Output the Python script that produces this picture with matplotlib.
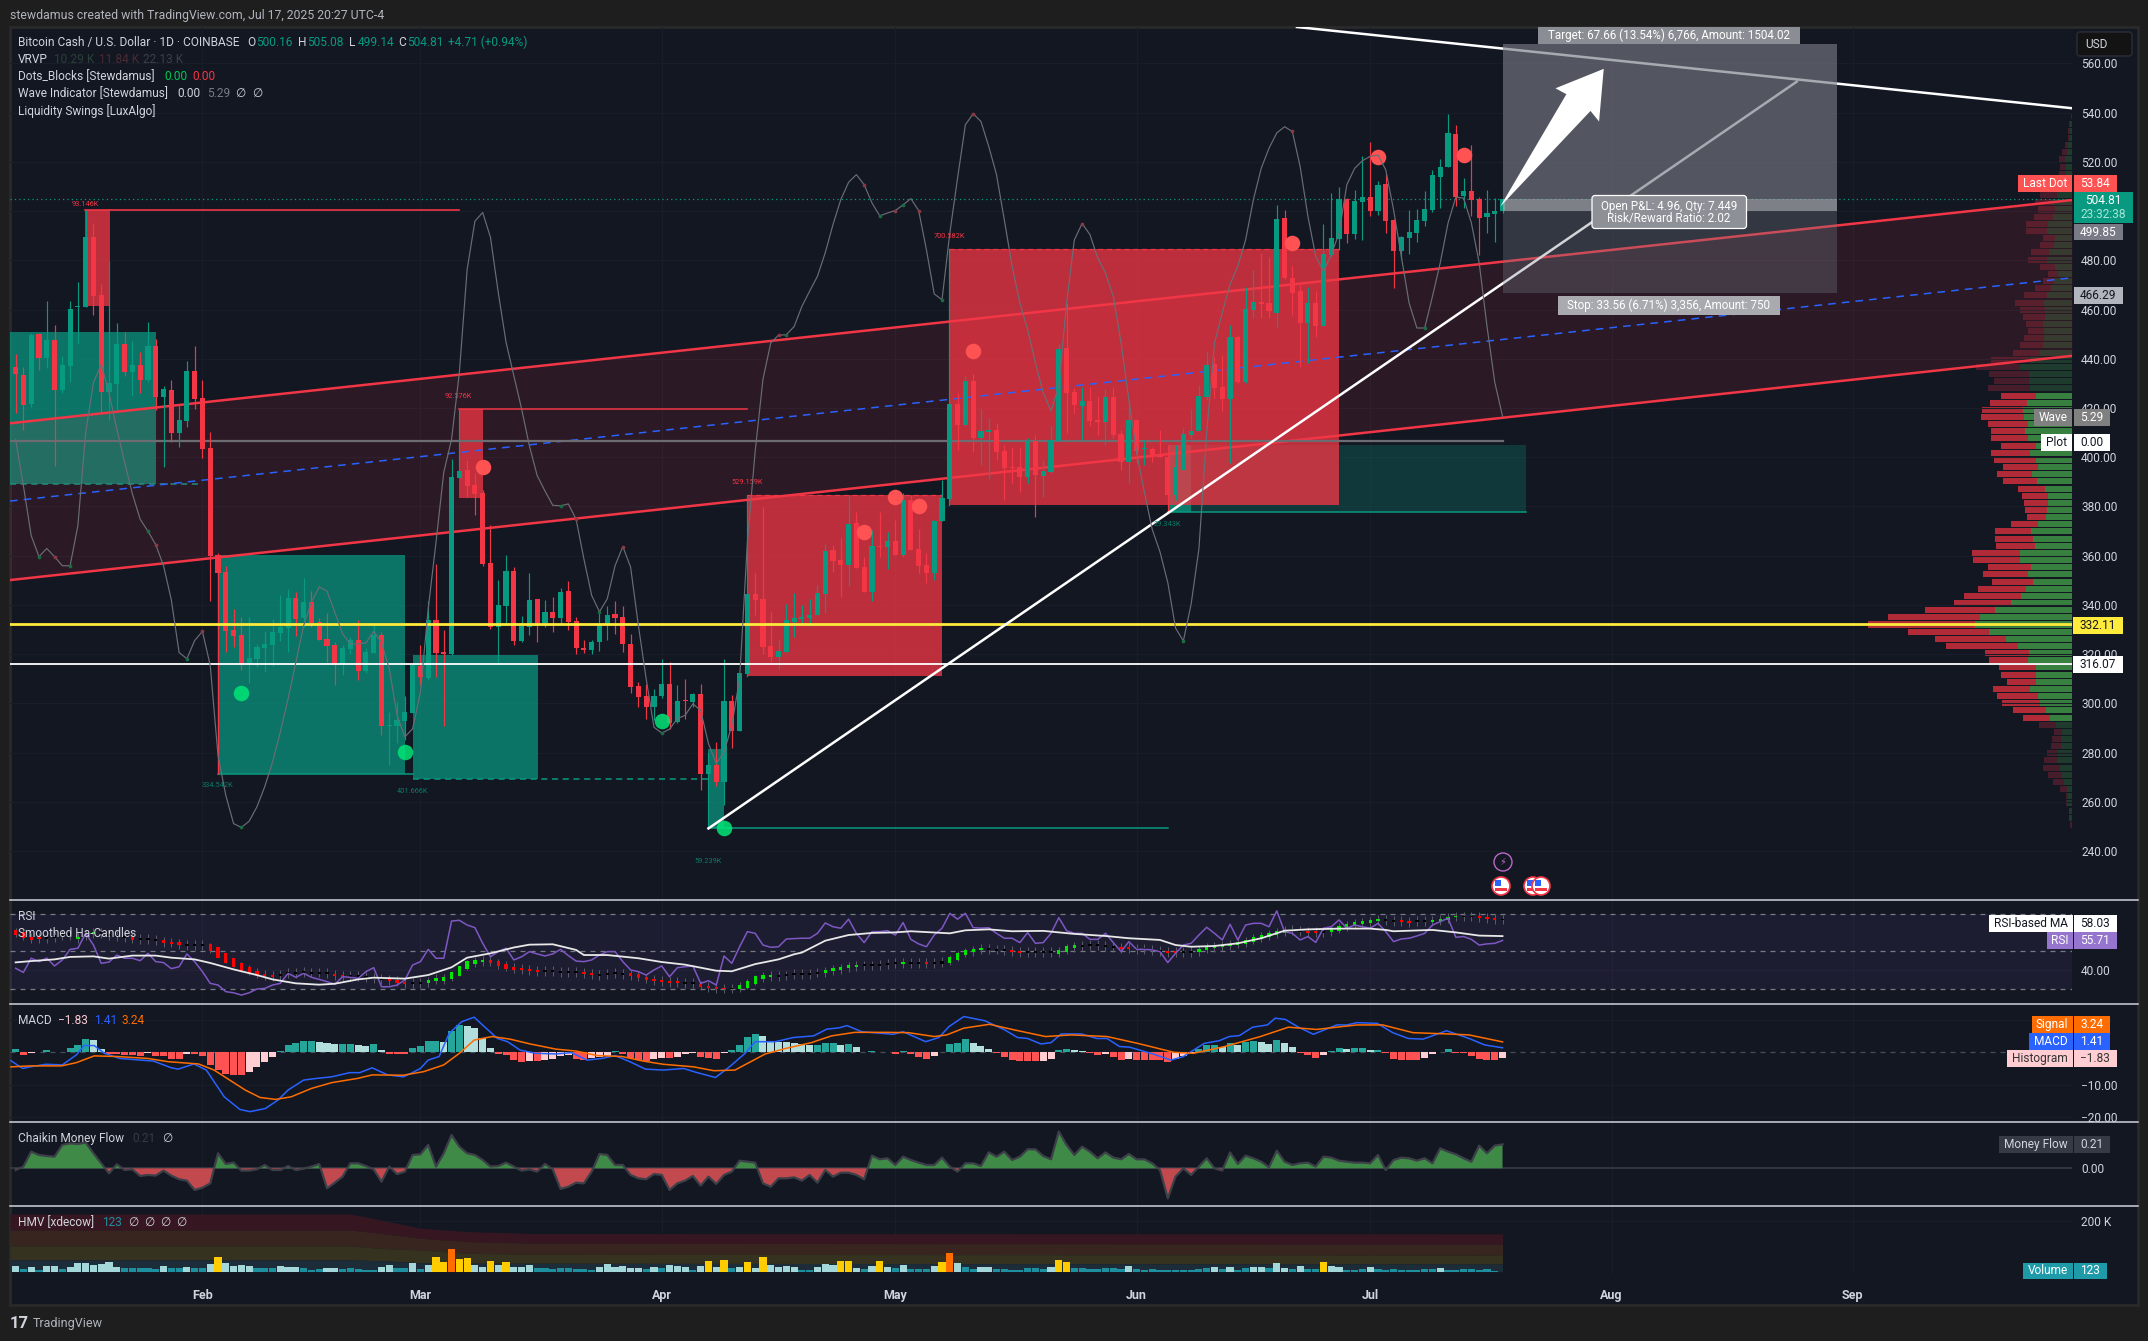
import numpy as np
import matplotlib
matplotlib.use('Agg')
from matplotlib import pyplot as plt
from matplotlib.patches import Rectangle, Polygon, Circle, FancyBboxPatch

plt.rcParams['font.family'] = ['Roboto', 'DejaVu Sans']

# price candles, one per day
body_top = [436.5,433.3,449.7,450.1,447.6,447.6,437.5,460.2,461.3,489.6,
489.6,465.9,430.2,446,446,437.5,437.5,445.2,445.2,427.7,
427.3,415.1,435.1,435.1,424.1,403.8,360.3,353.4,329.8,327.8,
318.4,322.9,324.1,329,331,342.8,342.8,341.2,341.2,333,
326.2,323.7,322.5,325.8,325.8,320.9,327.8,327.8,291.2,293.3,
296.5,315.6,315.2,333.9,333.9,320.9,392,394.4,394.8,388.7,
385.5,357,340,353.8,353.8,331.4,342,342.4,337.1,337.1,
345.3,345.7,333.5,322.5,324.9,332.3,335.9,336.3,335.1,324.1,
307,303,303,307.9,307.9,301,301.4,303.8,303.8,275,
275,301,301,312.2,344.4,344.4,342.4,323.3,321.3,333.9,
334.7,335.1,335.9,344.9,361.9,362.3,358.3,372.9,373.3,355.4,
364,364,366,366,382.6,382.6,362.7,356.2,374.1,383.5,
421.7,421.7,431,431,410.7,411.1,411.1,402.6,396.1,396.1,
406.6,406.6,394.4,407,444,444.4,426.5,422.9,422.9,415.2,
424.5,424.5,409.3,415.2,415.2,403.8,403.4,400.9,400.1,396.1,
409.3,410.7,424.9,437.4,437.9,428.6,448.9,448.9,460.3,463.1,
463.1,462.7,496.8,497.3,472.9,467.6,462.7,462.7,482.6,489.1,
505,505,504.2,505.8,505.8,510.7,511.1,496.4,489.5,491.6,
496.4,500.9,514.7,518,531.8,531.4,508.2,508.2,505,499.3,
500.1,504.81]
body_bot = [433.8,421.2,421.6,440.5,440.5,427.3,427.3,437.1,461,461,
465.5,426.5,426.5,429.8,434.6,434.6,431.4,431.4,424.5,424.5,
409.9,409.9,414.7,423.7,403.4,359.9,353,329.4,327.4,316,
316,318,322.5,323.7,328.6,330.6,334.3,334.7,332.7,325.8,
323.3,316,316,322.1,313.2,313.2,320.5,290.8,290.8,290.8,
292.8,296.1,310.7,310.3,320.5,320.1,320.1,391.6,388.3,385.1,
356.6,331,331,339.6,325.4,325.4,331,332.3,332.7,334.7,
334.7,333,322.5,321.7,321.7,324.9,331.9,334.7,324.1,306.6,
302.6,298.5,298.5,303,292,292.4,301,300.6,271.3,271.3,
268.1,268.1,288.8,288.8,311.9,342,322.9,318.8,318.8,320.9,
333.1,334.3,334.7,335.9,344.4,357.9,356.2,356.2,355,345.3,
345.3,363.6,363.6,360.3,360.3,362.3,355.8,353,353,374.1,
383.1,413.2,413.2,407.9,407.9,410.4,402.2,395.7,395.7,392,
392,392.8,392.4,394,406.6,426.1,421.3,420.9,414.8,414.4,
414.4,409.1,398.1,398.1,402.6,403.4,400.5,400.3,384.7,384.7,
394.9,409.1,410.7,424.5,428.2,423.7,423.7,430.6,430.6,459.9,
462.3,459.5,458.7,472.9,466.8,454.6,454.6,453.4,453.4,482.2,
488.7,490.7,490.7,503.8,500.1,500.1,496,483.8,483.8,489.1,
491.2,496,500.5,513.9,518,505.8,506.2,504.6,497.3,497.7,
498.9,500.16]
highs = [442.0,436.5,450.4,450.4,463.5,453.7,441.1,463.5,471.2,500.5,
495.3,470.4,479.9,454.6,450.9,447.2,442.8,455,448,429,
431.4,421.2,439.1,445.2,431.4,410.3,361,355.8,338.4,335.1,
335.1,324.1,329.4,334.3,344,346.5,345.3,350.9,345.7,334.7,
336.7,324.9,323.7,327,333.9,322.5,332.3,329,296.5,300.6,
303,315.6,323.7,341.6,356.6,329.8,399.3,419.6,398.9,393.5,
386.7,372.5,350.1,360.3,355.4,335.5,353,342.4,342,343.2,
346.9,349.7,335.1,325.8,325.8,337.1,339.6,341.6,339.6,328.2,
308.7,307.9,305.8,318,316.8,307.5,309.9,304.2,307.9,279.7,
284.3,318,303.4,312.2,344.4,353.1,379.9,337.1,325.8,340.4,
344.9,340,342.4,348.1,364.8,364.4,367.2,384.7,377.6,359.6,
370.5,377.8,369.6,374.5,385.4,384.7,370.9,361.1,374.5,390.8,
421.7,426,433,433.9,419.6,416,413.8,405,404.3,404.3,
407.9,409.1,398.9,412.5,446,462.6,428,428.7,428.7,424.7,
427.6,428,411.1,423.3,415.4,407,404.3,411.1,405,405,
411.8,419.6,429.4,443,440.9,441.6,453.8,449.7,469.3,476.1,
482.9,481.5,502.5,500.5,477.7,470,469.3,467.6,494.8,507.3,
509.7,505.4,508.6,522.4,528.1,512.3,515.1,496.6,489.9,500.5,
500.9,508.2,516.8,521.2,539.5,535,513.5,526.9,505.6,508.6,
505.4,505.08]
lows = [418.1,411.1,420.6,435.4,436.4,396.4,426,430.6,446,460.9,
457.8,418.1,415.1,419.2,433,424.9,426,430.6,419.2,396.2,
406.2,404.2,412.3,419.6,399.7,341.6,271.2,320.9,322.9,313.6,
308.3,314.8,312.8,315.2,325.4,320.9,327.4,331,331,325.8,
316.8,307.5,311.5,320.1,309.5,312.4,320.3,287.1,275,283.9,
285.1,296,307.5,309.5,310.7,290.8,319.7,391.6,383.9,376.6,
355.8,330.2,316,331.9,323.7,324.9,327.8,324.9,331,329,
332.3,329.8,320.1,320.5,320.1,321.3,325.8,328.2,320.9,304.2,
298.5,293.7,293.2,302.2,289.6,291.9,293.7,298.5,264.8,249.2,
266.4,258.7,281.9,288.8,311.9,335.9,320.1,316.8,314,320.9,
327.1,332.3,331.4,335.9,336.6,353.5,343.2,347.7,355,345.3,
341.6,359.6,354.6,360.3,359.3,362.3,352.8,348.8,350.1,374.1,
383.1,403,412.5,402.3,396.9,391.2,398.9,382.7,389.4,386,
389.4,375.9,384,393.5,406.6,409.7,417.9,407,412.5,409.1,
405,407.7,394.9,389.4,397.6,396.9,398.2,400.3,377.2,382.7,
394.9,407.7,410.7,423.3,424,418.6,397.6,430.1,430.1,456.5,
456.5,456.5,452.8,472.5,457.8,436.8,438.2,449,453.4,481.5,
484.2,487,488.7,488.3,498,498.5,491.2,468.8,480.6,482.6,
487.5,494,499.7,501.3,518,502.1,501.3,498,482.2,491.2,
487.5,499.14]
candle_dir = ("RRGRGRGGGG" "RRGGRGRGRG" "RGGRRRRRRR" "GGGGGGRGRR" "RRGGRGGRGG"
              "GGRGRRGGRR" "RRGGRGGRGR" "GRRRGGGRRR" "RRGGRGRGRG" "RGRGGRRRGG"
              "GGGGGRRGRR" "GRGRGRRRGG" "GRGRGGRRRR" "GRGGGRRGRR" "GRRGRGRRRG"
              "GGGGRRGRGG" "RRGRRRGRGG" "GRGGRGRRGG" "GGGGGRGRRGGG")

# wave indicator oscillator, on its own scale
wave = [0.5,-9.2,-19.6,-24,-22.3,-24,-25.9,-25.9,-17.5,1.9,
12.3,16.1,10.2,2.6,-4.3,-10.9,-16.2,-18.7,-21.5,-25.9,
-33,-44,-45.3,-41.5,-39.6,-46.7,-65.5,-73.8,-79.7,-80.5,
-79.2,-76.2,-72,-66.9,-60.6,-53.7,-46,-38.4,-33.5,-30.3,
-31.2,-35.6,-40.1,-42.2,-42.2,-42,-39.6,-41.9,-47.4,-57.1,
-61.6,-59.9,-52.3,-34.9,-21,-6.4,0.5,14.4,35.9,46,
47.8,42.6,31.1,20.7,13.7,6.8,-0.9,-7.1,-10.3,-13.3,
-13.4,-13,-16.2,-24.5,-32.1,-35.5,-32.8,-25.9,-21.9,-26.2,
-38.4,-49.5,-59.6,-60.8,-60,-57.8,-57.1,-54.7,-56.1,-63,
-67.2,-64.8,-59.2,-49.5,-21,-2,13,20.6,22.2,22.3,
24,28.2,31.4,34.5,39.4,45.3,50.5,54.1,55.7,53.6,
49.8,47.1,47.7,48.2,49.4,50.7,48.2,40,30.8,29.6,
43.5,55,66.1,68.4,66.8,61.6,55.7,46.3,36.6,28.9,
23.4,16.4,10.2,6.4,11.6,28.9,42.1,45.5,43.2,38.3,
35.2,30.3,20.6,8.8,-2.3,-10.6,-18.3,-23,-29.4,-38.9,
-41.6,-33.9,-22.4,1.9,20.6,26.9,32.8,36.6,42.1,50.5,
57,61.2,64.4,65.7,64.7,57.4,47,38.7,35.5,39,
43.5,53.6,57,58.6,59.5,59.8,56.7,48.4,38.7,28.9,
23.7,23.7,30.3,37.3,45.6,51,50.8,45.6,37.3,24.1,
12.4,5.29]
wave_up_marks = [3,7,17,22,29,70,75,83,99,111,114,119,150,181]
wave_dn_marks = [5,18,24,72,78,98,109,113,116,123,137,164]

# dots from Dots_Blocks
green_dot_x = [29,50,83,91]
green_dot_y = [304.2,280.1,292.8,249.4]
red_dot_x = [60,109,113,116,123,164,175,186]
red_dot_y = [396.1,369.5,384,380.3,443.3,487.2,521.8,522.8]

# liquidity boxes: left, right, top, bottom
green_boxes = [(-0.72,18,450.9,389),(26,50,360.3,271.2),(51,67.1,319.7,269.1),(89,91,281.5,249.2),(148,151,405,377.6)]
red_boxes = [(8.95,12.1,500.5,461.5),(57,60.05,419.6,383.5),(94,119,384.7,311.1),(119.9,170,484.7,380.6)]
dim_box = (148,194,405,377.6)
swing_labels = [("93.146K",8.9,502.5,'r'),("92.576K",56.9,424.6,'r'),("529.159K",94,389.7,'r'),("700.582K",119.9,489.6,'r'),
                ("334.542K",26,266.6,'g'),("401.666K",51,264,'g'),("59.239K",89,235.7,'g'),("29.343K",148,372.6,'g')]

# channel and levels
chan_x = [-0.72,264.15]
chan_up = [413.8,504.5]
chan_mid = [382.2,472.9]
chan_lo = [350.1,441.2]
last_close = 504.81
poc_level = 332.11
low_level = 316.07
plot_level = 406.7
entry_price = 500.16
target_size = 67.66
stop_size = 33.56

# visible range volume rows, bottom to top
vp_bottom = 249.2
vp_step = 2.907
vp_down = [2,0,0,1,2,7,11,14,17,13,11,10,9,8,17,27,33,38,41,37,29,35,37,39,44,72,71,81,107,92,70,57,57,48,41,45,43,47,48,39,38,36,27,19,22,24,26,27,34,35,35,42,39,35,37,34,40,43,41,37,35,42,
           35,40,44,39,27,23,20,16,17,22,25,29,23,16,11,10,15,19,18,14,12,21,22,19,17,16,17,12,4,7,6,6,5,3,2,2,1,1]
vp_up = [0,3,3,5,4,5,8,10,12,15,14,11,11,10,16,22,26,32,34,42,36,36,36,44,43,54,66,83,97,92,77,61,51,46,39,44,41,52,52,37,39,41,34,26,25,24,24,27,35,40,34,36,42,36,44,47,44,48,49,45,36,42,
         43,43,52,42,32,29,28,28,29,27,27,28,25,21,18,14,17,25,23,18,17,25,24,19,17,21,15,10,8,6,6,7,5,4,2,2,2,0.5]

# RSI pane
rsi = [41,38.8,46.3,44.5,46.4,42.2,45.4,51,51.6,59.5,53.3,43.6,44.3,48,46.3,46.3,45,48.9,44.5,44,
40.8,41.8,48.6,44.5,39.2,33,32.1,28.6,28,26.8,28,30,30.3,32.1,33,38.3,36.2,38.3,36.2,35.1,
33.9,32.5,36.5,36.2,35.6,39.2,41.3,31.2,31.2,32.1,34.8,42.7,44.5,51,46.3,46.3,66,66.4,63.9,62.5,
54.2,47.1,49.8,51.6,45.4,47.1,49.8,48.6,47.5,48.6,51,47.7,44.8,44.5,45.4,48,49.8,49.8,44.5,40.1,
39.2,37.4,40.1,42.2,36.5,41.3,41.8,42.2,33,34.4,32.1,47.5,43.6,52.4,60.4,59.5,53.3,52.1,52.4,56.5,
56.7,56.9,56.9,59.5,65,63,62.2,67,59.5,54.6,60.4,60.4,60.9,58.6,65.2,56.3,53.9,52.4,58.6,62.2,
70.1,67,70.1,62.5,62.3,62.5,59.5,56.9,56.9,54.6,59.9,54.2,54.6,59.5,67.8,60.9,59.5,59.5,56.3,56.3,
59.5,54.6,49.8,55.1,51,51,50.7,49.8,44,48.9,53.3,54.2,58.6,62.7,59.5,56,64.3,56,63.9,64.8,
64.8,63,71.4,60.4,59.5,56,57.8,54.7,62.2,63,66.6,62.2,63.9,63,62.2,64.8,60.4,55.1,56.5,56.9,
58.1,59.5,63.9,65.7,67.5,57.4,57.8,56.3,53.3,53.9,54.2,55.71]
rsi_ma_x = [0,2,5,7,10,12,15,18,20,23,25,28,31,33,36,39,41,44,46,50,53,56,58,61,64,66,69,72,73,76,80,83,86,90,92,95,98,
            100,101,104,107,110,113,115,120,122,125,128,132,136,140,143,147,149,151,154,157,160,163,166,170,174,176,177,182,185,188,191]
rsi_ma_y = [44.1,44.8,45.7,47,47.3,46.1,47.7,47.7,46.6,45.7,43.8,40.4,37.4,35.1,33,32.3,32.8,35.1,36,35.5,37.4,41.5,46.6,48.9,52,53.5,53.7,50.7,48,48,46.3,44.3,42.9,39.7,39.4,43.2,45.7,
            48.4,49.3,55.6,58.6,59.7,60,60.6,59.5,61.1,61.6,60.6,60.8,59.2,58.1,56.9,56,53.3,52.4,52.8,54.2,56.9,60.9,61.6,62,62,61.3,60.6,61.3,60,58.3,58.03]
ha_mid = [59.9,58.6,56.9,56.9,57.2,57.7,58.6,58.6,56.9,58.6,
59.5,59.5,58.6,58.1,57.7,56.9,56.3,56.3,56,55.1,
54.6,54,53.3,53.3,53.3,51.9,49.3,46.4,44,41.5,
39.9,38.3,37.4,37.1,37.4,38.3,38.3,38.8,38.7,38.7,
38.3,37.6,37.1,36.9,36.9,36.2,36,35.3,34.8,34.1,
33.2,33,33.2,33.9,35.1,35.5,37.1,39.5,42.7,44.1,
44.8,44.7,43.4,42,41,40.4,39.9,39.5,39.4,39.4,
39.2,39.2,38.8,38.3,37.8,37.6,38,38.3,38,37.6,
36.7,35.6,34.8,34.2,33.7,33.5,33.3,33.2,31.9,31.2,
30.7,30.3,30.3,31.2,32.5,34.8,36.5,36.9,36.9,37.2,
38,38.1,38.1,38.7,39.2,40.1,40.8,41.7,42.4,42.5,
42.5,42.7,43.2,43.6,43.6,43.6,43.6,43.6,43.6,44.1,
45.4,47.3,49.3,50.3,51,51,50.9,50.7,50.1,49.8,
49.8,49.8,49.6,49.4,49.6,51.2,52.4,53,53.3,53.3,
52.8,52.4,51.9,51.6,51.2,51,50.7,50.1,49.8,49.4,
49.4,49.8,50.3,51.6,52.1,52.8,53.3,54.2,54.9,56.3,
57.7,58.6,59.5,60.6,61.3,60.9,60.4,60,60.4,60.9,
62.2,63.4,64.5,65.2,65.7,66.4,66.6,66.2,65.9,65.5,
65.9,66.2,66.2,66.6,67.5,68.4,68.4,68.4,68,67.5,
67.1,66.8]
ha_col = ("rrrrkkkkgk" "gkkkkrkkkr" "rrkkkrrrrr" "rrrrkkkkkk" "krrkkkkkrr"
          "rkkggggggg" "grrrrrrrkk" "kkkrrkkkkr" "rrrrrrkkrr" "rrkgggggkk"
          "kkkkgggggk" "kkkkgkkrkk" "gggggkkkrr" "kkkkgggkkk" "kkrrkkkkrr"
          "kkgggggggg" "ggggkkrrkg" "ggggggkkrr" "kkggggkkrr" "rk")

# MACD pane
macd_hist = [1,-.8,-.2,.1,.7,.1,.1,1.4,2.3,4.1,3.8,1,-.4,-.6,-.8,-.8,-1,-.2,-1,-1,
-2,-2.1,-.4,-.4,-1,-3.9,-5.5,-6.7,-7,-7,-6,-4.5,-2.9,-1.3,.4,2.3,2.8,3.5,3.5,3.2,
3,2.5,2.5,2.6,2.2,2,2.6,.7,-.5,-.5,-.5,1.2,2.1,3.5,3.5,3.2,6.6,8.5,8.2,7.6,
4.3,1.2,-.6,-.8,-2.5,-3,-2.6,-2.7,-2.4,-2.2,-1.1,-.8,-2,-2.3,-1.9,-1.3,-1,.3,-.5,-1.7,
-2.4,-2.7,-2,-1.9,-1.9,-1.3,-.6,-.3,-1.6,-1.7,-2.1,-.3,.7,2.3,4.8,5.7,5.2,3.5,3.3,3.2,
2.9,2.5,2.3,2.3,2.9,2.9,2.3,2.6,1.6,.1,.4,.1,0,-.4,.4,-.4,-1.4,-2,-1.1,.1,
2.6,3,4.1,2.9,2,1,-.1,-1.3,-2.4,-2.7,-2.8,-2.8,-2.7,-2,.7,1,.7,.4,-.2,-.8,
-.4,-1.3,-2.4,-2,-2.4,-2.4,-2.4,-2.4,-3,-2.2,-1.1,-.2,.9,2.3,2.3,1.6,2.9,2.3,3.3,3.5,
3.2,2.6,3.8,2.9,1.7,-.1,-.8,-1.8,-.8,.4,1.2,.9,1.3,1.3,.7,.7,-.3,-2,-2.4,-2.4,
-2.4,-1.8,-.5,.1,1,-.1,-.3,-1,-2,-2.4,-2.4,-1.83]
macd_x = [-.6,.9,1.9,3.9,6,7.8,8.8,10.1,11.4,13.4,16,17.7,20,20.9,22.9,24.5,25.5,26.8,28.8,30.1,32.1,33.7,35,37,38.6,40.6,42.9,44.2,45.8,47.8,49.8,50.8,52,53,54.4,55.7,57.3,58.9,60.2,61.9,63.2,64.8,66.8,69.4,71.4,73.4,75.3,77,78.9,80.9,83.2,85.8,87.4,89.9,91.7,93.7,
          95,97.6,99.9,102.5,104.2,105.8,106.8,108.7,112.7,114,116.9,118.6,119.9,121.8,124.5,127.1,128.7,130,131.7,133,134.3,136.9,138.9,140.2,141.8,143.1,146.1,148.4,150,152.7,154.6,155.9,157.2,158.9,160.8,161.8,163.1,164.8,166.7,169.7,171,172.3,174.9,176.9,178.9,180.8,183.8,186.7,188.7,191]
macd_y = [-2.6,-5,-4.5,-3.7,-3.9,-.8,2.1,2.1,-.3,-1.9,-2.4,-2.7,-4.8,-5.2,-3.6,-5.5,-9.1,-13.8,-17.7,-18.4,-17.4,-14.8,-11.7,-8.6,-8.1,-7.6,-6.3,-6.3,-4.8,-7,-7.6,-6.5,-5,-2.4,-1.3,5.9,9.5,10.9,8,4.3,3.3,.7,-.3,-.5,-.1,-2.4,-1.9,-1,-2.9,-5.2,-5.5,-5,-6.2,-7.8,-4.5,-.3,
          3.3,3.3,4.6,5.1,7.2,7.6,8.3,6.4,5.6,6.4,3.3,4.6,8,11.1,9.8,6.9,4.6,4.3,2.6,3,5.7,5.7,4.3,4.3,1.8,1.6,-.5,-2.4,-1.3,2.8,3.6,4.9,5.2,7.8,8.5,10.6,10.2,7.8,5.6,8.5,8.5,9.2,9,6.1,4.3,4.1,6.7,4.3,2.3,1.41]
signal_x = [-.6,1.9,5.9,7.8,10.1,13.1,17,19.6,23.5,25.5,27.5,29.5,31.4,33.4,35.4,38,40.6,43.9,45.8,49.8,52.4,55,57,58.9,61.2,63.5,66.1,69.4,72,74.7,77.9,80.6,83.2,87.1,89.7,92.4,
            96.3,98.9,102.2,104.8,107.8,112,114.7,118,119.6,121.8,125.1,128.4,132.3,135.6,140.2,144.1,148.8,151.3,155.3,159.9,163.5,167.1,172.3,175.6,179.5,184,186.7,191]
signal_y = [-4.5,-4.2,-4.2,-3.2,-1.1,-1.3,-1.9,-2.9,-3.6,-5.5,-8.6,-11.7,-14,-14.6,-13.8,-11.2,-9.4,-8.1,-7,-7.1,-6,-3.9,-.3,3.8,4.9,4.1,2.6,1,.4,-1,-1.3,-2.7,-3.7,-4.5,-5.7,-5.5,
            -.5,1.2,3,5.1,6.2,6.2,6.1,4.9,5.4,7.5,8.7,6.9,4.9,5.4,4.9,2.8,0,-.3,1.8,4.9,7.8,7.1,8.5,8.5,6.1,5.7,5.4,3.24]

# Chaikin money flow
cmf = [-.015,.015,.146,.117,.108,.102,.205,.219,.213,.225,.132,.044,-.044,.035,-.015,-.009,-.067,-.058,-.064,-.02,
-.064,-.096,-.108,-.19,-.17,-.132,.132,.038,.05,-.02,-.02,-.009,.029,-.015,-.015,.02,-.015,-.003,.015,.038,
-.175,-.126,-.073,.044,.044,.02,-.009,-.117,.015,-.05,-.029,.117,.123,.205,.015,.132,.292,.19,.132,.117,
.073,.015,.02,.05,.015,-.02,-.009,-.029,.038,-.009,-.181,-.161,-.126,-.132,-.029,.126,.117,.029,.029,-.058,
-.088,-.096,-.05,-.058,-.19,-.132,-.108,-.067,-.152,-.073,-.137,-.058,-.029,.067,.058,.05,-.132,-.161,-.088,-.088,
-.079,-.108,-.058,-.126,-.015,-.073,-.038,-.038,-.058,-.096,.111,.079,.088,.029,.102,.073,.05,.029,.029,.094,
.015,-.029,.044,.044,.02,.14,.102,.146,.073,.102,.167,.167,.108,.079,.322,.205,.117,.19,.146,.088,
.14,.094,.079,.126,.079,.079,.044,-.015,-.263,-.073,0,-.058,.015,.088,0,-.02,.14,.038,.111,.088,
.058,.009,.155,.058,.029,.044,.05,.015,.102,.094,.067,.058,.05,.05,.044,.117,-.015,.073,.094,.088,
.067,.088,.044,.175,.146,.123,.088,.058,.199,.132,.199,.21]

# volume in thousands with its colour class
volume = [22,12,18,8,21,24,12,20,33,35,27,31,39,18,14,14,14,14,10,24,
16,16,18,14,16,30,59,33,22,25,22,13,14,13,22,18,18,13,8,10,
14,16,9,13,9,8,7,18,26,13,16,33,10,27,59,38,89,51,55,26,
18,43,27,39,17,20,26,14,14,12,14,14,10,12,7,17,31,18,22,13,
13,12,17,13,26,24,18,8,24,42,20,46,16,17,38,16,59,27,18,22,
17,7,8,18,30,26,42,42,14,9,22,42,18,13,26,10,10,10,22,38,
72,33,18,12,18,18,12,12,7,7,14,14,10,18,46,38,14,14,10,12,
16,14,10,22,10,7,10,7,5,7,7,7,10,14,18,10,17,7,14,18,
18,14,33,14,10,21,10,10,38,22,18,7,7,10,18,10,7,10,7,7,
7,10,10,14,7,7,10,10,7,10,4,0.123]
volume_col = ("LTLTLLTLLL" "LLLLTTTTTL" "TTLTTLYLLL" "LTTTLLLTTT" "LLTTTTTLLT"
              "TLTLYYOYYL" "LYLYLLLTTT" "TTTTTLLLLL" "LTLTLLLTLY" "LYTLYLYLLL"
              "LTTLLLYYLT" "LYLTLTTTLY" "OLTTLLTTTT" "TTTLYYTTTT" "TTTLTTTTTT"
              "TTTTLTLTTL" "LTLLTLTTYL" "LTTTLTTTTT" "TTTLTTTTTT" "TT")
band_x = [-0.72,43,47,52,58,67,191]
band_maroon = [226,226,202,170,157,149,148]
band_brown = [163,163,150,131,118,111,108]
band_olive = [101,101,91,85,72,68,65]
band_blue = [46,46,43,35,33,33,30]

month_pos = [24,52,83,113,144,174,205,236]
month_names = ['Feb','Mar','Apr','May','Jun','Jul','Aug','Sep']
price_ticks = list(range(240,561,20))

for name, arr in [('body_top',body_top),('body_bot',body_bot),('highs',highs),('lows',lows),('dir',candle_dir),('wave',wave),
                  ('rsi',rsi),('ha',ha_mid),('hacol',ha_col),('hist',macd_hist),('cmf',cmf),('vol',volume),('volcol',volume_col)]:
    assert len(arr) == 192, (name, len(arr))
assert len(vp_down) == 100 and len(vp_up) == 100, (len(vp_down), len(vp_up))
assert len(macd_x) == len(macd_y) and len(signal_x) == len(signal_y) and len(rsi_ma_x) == len(rsi_ma_y)

W, H = 2148, 1341
BG = '#131722'
GREEN = '#089981'
RED = '#f23645'
TXT = '#d1d4dc'
idx = np.arange(192)
xlim = (-0.72, 264.15)

fig = plt.figure(figsize=(W/100, H/100), dpi=100, facecolor='#1e1e1e')

bg = fig.add_axes([0,0,1,1], zorder=0)
bg.set_xlim(0,W); bg.set_ylim(H,0); bg.axis('off')
bg.add_patch(Rectangle((10,27),2128,1278,facecolor=BG,edgecolor='#2a2a2a',lw=2))

def pane(y0, y1, ylim, z=2):
    a = fig.add_axes([10/W, 1-y1/H, 2062/W, (y1-y0)/H], zorder=z)
    a.set_xlim(xlim); a.set_ylim(ylim)
    a.patch.set_visible(False)
    for s in a.spines.values():
        s.set_visible(False)
    a.yaxis.tick_right()
    a.set_xticks(month_pos)
    a.tick_params(axis='both', length=0, colors=TXT, labelsize=8.6, pad=6.5)
    a.tick_params(axis='x', labelbottom=False)
    a.grid(True, color='#191d29', lw=0.8)
    a.set_axisbelow(True)
    return a

# ---- main price pane
ax = pane(27, 900.3, (220.0, 574.8), z=3)

ax_vp = ax.twiny()
ax_vp.set_zorder(2)
ax_vp.set_xlim(2062, 0)
ax_vp.axis('off')
vp_y = [vp_bottom + vp_step*(k+0.5) for k in range(100)]
for k in range(100):
    bright = 15 <= k <= 60
    ax_vp.barh(vp_y[k], vp_up[k], height=vp_step*0.84, color='#388040' if bright else '#1f3b2d', lw=0)
    ax_vp.barh(vp_y[k], vp_down[k], left=vp_up[k], height=vp_step*0.84, color='#b02a37' if bright else '#471d2b', lw=0)
ax.patch.set_visible(False)

for l, r, t_, b in green_boxes:
    ax.add_patch(Rectangle((l,b),r-l,t_-b,facecolor=GREEN,alpha=0.72,lw=0,zorder=2))
for l, r, t_, b in red_boxes:
    ax.add_patch(Rectangle((l,b),r-l,t_-b,facecolor=RED,alpha=0.77,lw=0,zorder=2))
ax.add_patch(Rectangle((dim_box[0],dim_box[3]),dim_box[1]-dim_box[0],dim_box[2]-dim_box[3],facecolor=GREEN,alpha=0.25,lw=0,zorder=1.9))

# swing level lines
ax.plot([8.95,57],[500.5,500.5],color=RED,lw=1.2,zorder=2.5)
ax.plot([57,94],[419.6,419.6],color=RED,lw=1.1,zorder=2.5)
ax.plot([94,119],[384.7,384.7],color=RED,lw=0.9,ls=(0,(4,3)),zorder=2.5)
ax.plot([119.9,170],[484.7,484.7],color=RED,lw=0.9,ls=(0,(4,3)),zorder=2.5)
ax.plot([-0.72,24],[389,389],color=GREEN,lw=1.1,ls=(0,(4,3)),zorder=2.5)
ax.plot([26,51],[271.2,271.2],color=GREEN,lw=1.1,zorder=2.5)
ax.plot([51,89],[269.1,269.1],color=GREEN,lw=1.1,ls=(0,(4,3)),zorder=2.5)
ax.plot([89,148],[249.2,249.2],color=GREEN,lw=1.1,zorder=2.5)
ax.plot([148,194],[377.6,377.6],color=GREEN,lw=1.1,zorder=2.5)
ax.plot([26,26],[271.2,360.3],color=GREEN,lw=0.9,zorder=2.5)
ax.plot([94,94],[311.1,384.7],color=GREEN,lw=0.9,zorder=2.5)
ax.plot([119.9,119.9],[380.6,484.7],color=GREEN,lw=0.9,zorder=2.5)
for txt, x, y, c in swing_labels:
    ax.text(x, y, txt, color=RED if c == 'r' else '#0b7a68', fontsize=5.3, ha='center', va='center', zorder=7)

# channel
ax.fill_between(chan_x, chan_lo, chan_up, color=RED, alpha=0.11, lw=0, zorder=3)
ax.plot(chan_x, chan_up, color=RED, lw=1.8, zorder=3.2)
ax.plot(chan_x, chan_lo, color=RED, lw=1.8, zorder=3.2)
ax.plot(chan_x, chan_mid, color='#2962ff', lw=1.1, ls=(0,(5,4)), zorder=3.2)

ax.plot([-0.72,191],[plot_level,plot_level],color='#6c6c72',lw=1.6,zorder=3.4)
ax.plot(xlim,[last_close,last_close],color=GREEN,lw=0.9,ls=(0,(1,2.5)),zorder=3.4)

# candles
colors = [GREEN if d == 'G' else RED for d in candle_dir]
ax.vlines(idx, lows, highs, colors=colors, lw=0.85, zorder=4)
ax.bar(idx, np.array(body_top)-np.array(body_bot), bottom=body_bot, width=0.66, color=colors, lw=0, zorder=4.2)

ax.axhline(poc_level, color='#ffeb3b', lw=2.0, zorder=4.5)
ax.axhline(low_level, color='white', lw=1.3, zorder=4.5)

ax.scatter(green_dot_x, green_dot_y, s=125, color='#00e676', alpha=0.85, lw=0, zorder=4.6)
ax.scatter(red_dot_x, red_dot_y, s=125, color='#ff5252', lw=0, zorder=4.6)

# drawings: trend lines, position tool, arrow
ax.plot([89,228.8],[249.2,552.6],color='white',lw=1.8,zorder=5)
ax.plot([164.6,264.15],[574.8,541.8],color='white',lw=1.8,zorder=5)
ax.add_patch(Rectangle((191,entry_price),42.9,target_size,facecolor='#787b86',alpha=0.64,lw=0,zorder=6))
ax.add_patch(Rectangle((191,entry_price-stop_size),42.9,stop_size,facecolor='#787b86',alpha=0.32,lw=0,zorder=6))
ax.add_patch(Rectangle((191,entry_price),42.9,last_close-entry_price,facecolor='white',alpha=0.25,lw=0,zorder=6.1))
arrow_x = [190.7,199.2,197.8,204,203.4,202.3]
arrow_y = [501.8,547.5,549.9,557.8,536.4,540.7]
ax.add_patch(Polygon(list(zip(arrow_x,arrow_y)),closed=True,facecolor='white',lw=0,zorder=6.5))

# wave oscillator on a hidden scale
ax_w = ax.twinx()
ax_w.set_zorder(4)
ax_w.set_xlim(xlim)
ax_w.set_ylim(-95.7, 86.5)
ax_w.axis('off')
ax_w.plot(idx, wave, color='#6a6d75', lw=0.85)
ax_w.scatter(wave_up_marks, [wave[i] for i in wave_up_marks], s=7, color='#1b6b45', lw=0, zorder=5)
ax_w.scatter(wave_dn_marks, [wave[i] for i in wave_dn_marks], s=7, color='#8a3a42', lw=0, zorder=5)

# twinx moved the price ticks to the left, put them back
ax.yaxis.tick_right()
ax.set_yticks(price_ticks)
ax.set_yticklabels(['%.2f' % p for p in price_ticks])
ax.tick_params(axis='y', length=0, colors=TXT, labelsize=8.6, pad=6.5)

# ---- RSI pane
ax_r = pane(900.3, 1004.3, (21.9, 77))
ax_r.set_yticks([40]); ax_r.set_yticklabels(['40.00'])
ax_r.fill_between(xlim, 30, 70, color='#7e57c2', alpha=0.1, lw=0)
for lv in [30,50,70]:
    ax_r.axhline(lv, color='#787b86', lw=0.9, ls=(0,(4,4)))
ha_mid_a = np.array(ha_mid)
ha_body = np.maximum(0.5, np.abs(np.gradient(ha_mid_a))*1.0)
ax_r.vlines(idx, ha_mid_a-2.6, ha_mid_a+2.6, colors='#5b5e68', lw=0.7)
ha_colors = {'r':'#ff0000','g':'#00e600','k':'#000000'}
ax_r.bar(idx, 2*ha_body, bottom=ha_mid_a-ha_body, width=0.42, color=[ha_colors[c] for c in ha_col], lw=0, zorder=3)
ax_r.plot(idx, rsi, color='#7e57c2', lw=1.1, zorder=4)
ax_r.plot(rsi_ma_x, rsi_ma_y, color='#e8e8e8', lw=1.3, zorder=4)

# ---- MACD pane
ax_m = pane(1004.3, 1122.3, (-21.7, 14.9))
ax_m.set_yticks([10,-10,-20]); ax_m.set_yticklabels(['10.00','\u221210.00','\u221220.00'])
ax_m.axhline(0, color='#4a4e5a', lw=0.9, ls=(0,(4,4)))
hist_colors = []
for i, v in enumerate(macd_hist):
    prev = macd_hist[i-1] if i else v
    if v >= 0:
        hist_colors.append('#26a69a' if v >= prev else '#b2dfdb')
    else:
        hist_colors.append('#ff5252' if v <= prev else '#ffcdd2')
ax_m.bar(idx, macd_hist, width=0.9, color=hist_colors, lw=0, zorder=2)
ax_m.plot(macd_x, macd_y, color='#2962ff', lw=1.1, zorder=3)
ax_m.plot(signal_x, signal_y, color='#ff6d00', lw=1.1, zorder=3)

# ---- Chaikin pane
ax_c = pane(1122.3, 1206.3, (-.333, .4035))
ax_c.set_yticks([0]); ax_c.set_yticklabels(['0.00'])
ax_c.axhline(0, color='#363a45', lw=1.2)
ax_c.fill_between(idx, 0, cmf, where=np.array(cmf) >= 0, interpolate=True, color='#3f8a47', lw=0, zorder=2)
ax_c.fill_between(idx, 0, cmf, where=np.array(cmf) <= 0, interpolate=True, color='#c24a4f', lw=0, zorder=2)
ax_c.plot(idx, cmf, color='#3d4049', lw=1.6, zorder=3)

# ---- volume pane
ax_v = pane(1206.3, 1274, (-9, 256))
ax_v.set_yticks([200]); ax_v.set_yticklabels(['200 K'])
ax_v.fill_between(band_x, band_brown, band_maroon, color='#361721', lw=0)
ax_v.fill_between(band_x, band_olive, band_brown, color='#38251f', lw=0)
ax_v.fill_between(band_x, band_blue, band_olive, color='#35331f', lw=0)
ax_v.fill_between(band_x, 0, band_blue, color='#1c2c38', lw=0)
vol_colors = {'L':'#a4d7da','T':'#1e8f9f','Y':'#ffcc00','O':'#ff6d00'}
ax_v.bar(idx, volume, width=0.92, color=[vol_colors[c] for c in volume_col], lw=0, zorder=3)
ax_v.tick_params(axis='x', labelbottom=True, pad=11, labelsize=9)
ax_v.set_xticklabels(month_names, fontweight='bold')

# ---- page furniture, placed in pixels on a full figure layer
ov = fig.add_axes([0,0,1,1], zorder=10)
ov.set_xlim(0,W); ov.set_ylim(H,0); ov.axis('off')

def t(x, y, s, c=TXT, size=8.6, ha='left', **kw):
    ov.text(x, y, s, color=c, fontsize=size, ha=ha, va='center', **kw)

def box(x0, x1, yc, h, s, bg_c, fg, size=8.6):
    ov.add_patch(Rectangle((x0,yc-h/2),x1-x0,h,facecolor=bg_c,lw=0))
    ov.text((x0+x1)/2, yc, s, color=fg, fontsize=size, ha='center', va='center')

for y in [900.3,1004.3,1122.3,1206.3]:
    ov.plot([10,2138],[y,y],color='#d1d4dc',lw=1.1)

t(10, 15.7, 'stewdamus created with TradingView.com, Jul 17, 2025 20:27 UTC-4', c='#b2b5be', size=8.8)
t(18, 42.7, 'Bitcoin Cash / U.S. Dollar \u00b7 1D \u00b7 COINBASE')
for x, lab, val in [(247,'O','500.16'),(298,'H','505.08'),(349,'L','499.14'),(398,'C','504.81')]:
    t(x, 42.7, lab)
    t(x+9, 42.7, val, c=GREEN)
t(448, 42.7, '+4.71 (+0.94%)', c=GREEN)
t(18, 59.3, 'VRVP')
t(54, 59.3, '10.29 K', c='#2b4038'); t(99, 59.3, '11.84 K', c='#4c2a33'); t(143, 59.3, '22.13 K', c='#3b3f47')
t(18, 76.7, 'Dots_Blocks [Stewdamus]')
t(164, 76.7, '0.00', c='#00c853'); t(192.5, 76.7, '0.00', c=RED)
t(18, 93.7, 'Wave Indicator [Stewdamus]')
t(177.7, 93.7, '0.00'); t(206.7, 93.7, '5.29', c='#787b86')
t(235, 93.7, '\u2205'); t(252, 93.7, '\u2205')
t(18, 110.7, 'Liquidity Swings [LuxAlgo]')

t(18, 916.7, 'RSI'); t(18, 933, 'Smoothed Ha-Candles')
t(18, 1020.7, 'MACD')
t(57.6, 1020.7, '\u22121.83', c='#ffcdd2'); t(94, 1020.7, '1.41', c='#2962ff'); t(122, 1020.7, '3.24', c='#ff6d00')
t(18, 1138.7, 'Chaikin Money Flow'); t(132, 1138.7, '0.21', c='#363a45'); t(162, 1138.7, '\u2205')
t(18, 1222.3, 'HMV [xdecow]'); t(102.5, 1222.3, '123', c='#1e8f9f')
for x in [128.6,144,160,176]:
    t(x, 1222.3, '\u2205')
t(10, 1324, '17', c='#d1d4dc', size=12, fontweight='bold')
t(33, 1324, 'TradingView', c='#b2b5be', size=9)

# price tags on the right
box(2018, 2072, 183.7, 17, 'Last Dot', '#ff5252', 'white')
box(2073.5, 2116.5, 183.7, 17, '53.84', '#ff5252', 'white')
ov.add_patch(Rectangle((2073.5,192),59.5,30.7,facecolor=GREEN,lw=0))
t(2103, 200.7, '504.81', c='white', ha='center'); t(2103, 214.7, '23:32:38', c='#a8e6d8', ha='center')
box(2073.5, 2123, 232, 16, '499.85', '#787b86', 'white')
box(2073.5, 2123, 295.5, 17, '466.29', '#b2b5be', '#131722')
box(2034, 2072, 417.3, 17, 'Wave', '#808080', 'white')
box(2073.5, 2110, 417.3, 17, '5.29', '#808080', 'white')
box(2041, 2072, 442, 17, 'Plot', 'white', '#131722')
box(2073.5, 2110, 442, 17, '0.00', 'white', '#131722')
box(2073, 2122.7, 625.3, 17, '332.11', '#ffeb3b', '#131722')
box(2073, 2122.7, 664.3, 17, '316.07', 'white', '#131722')
box(1989, 2072.5, 923.3, 17, 'RSI-based MA', 'white', '#131722')
box(2073.5, 2117, 923.3, 17, '58.03', 'white', '#131722')
box(2046.6, 2072.5, 940.7, 17, 'RSI', '#9575cd', 'white')
box(2073.5, 2117, 940.7, 17, '55.71', '#9575cd', 'white')
box(2031.7, 2072.5, 1024.7, 17, 'Signal', '#ff6d00', 'white')
box(2073.5, 2110, 1024.7, 17, '3.24', '#ff6d00', 'white')
box(2029.4, 2072.5, 1041.7, 17, 'MACD', '#2962ff', 'white')
box(2073.5, 2110, 1041.7, 17, '1.41', '#2962ff', 'white')
box(2007, 2072.5, 1058.7, 17, 'Histogram', '#ffcdd2', '#333333')
box(2073.5, 2117, 1058.7, 17, '\u22121.83', '#ffcdd2', '#333333')
box(1998.5, 2072.5, 1144.7, 17, 'Money Flow', '#363a45', TXT)
box(2073.5, 2110, 1144.7, 17, '0.21', '#363a45', TXT)
box(2022.5, 2072.5, 1270.7, 16, 'Volume', '#1e9aa8', 'white')
box(2073.5, 2107, 1270.7, 16, '123', '#1e9aa8', 'white')
ov.add_patch(FancyBboxPatch((2077,32),55,24,boxstyle='round,pad=0,rounding_size=3',facecolor='#131313',edgecolor='#2a2e39',lw=1))
t(2096.5, 44.5, 'USD', ha='center')

# position tool labels
box(1538, 1800, 35.7, 17, 'Target: 67.66 (13.54%) 6,766, Amount: 1504.02', '#8b8d94', 'white', size=8.4)
box(1558, 1779.5, 305, 19, 'Stop: 33.56 (6.71%) 3,356, Amount: 750', '#a8aab0', 'white', size=8.4)
ov.add_patch(FancyBboxPatch((1592,195.5),154.5,33,boxstyle='round,pad=0,rounding_size=3',facecolor='#8e9098',edgecolor='white',lw=0.9))
t(1669, 206.7, 'Open P&L: 4.96, Qty: 7.449', c='white', ha='center', size=8.4)
t(1669, 218.7, 'Risk/Reward Ratio: 2.02', c='white', ha='center', size=8.4)

# event icons
ov.add_patch(Circle((1503,862),9,facecolor=BG,edgecolor='#ba68c8',lw=1))
t(1503, 862, '\u26a1', c='#ba68c8', ha='center', size=7)
for x in [1501,1533,1541]:
    ov.add_patch(Circle((x,886),9,facecolor='white',edgecolor='#f23645',lw=1.2))
    ov.add_patch(Rectangle((x-6,888),12,3,facecolor='#f23645',lw=0))
    ov.add_patch(Rectangle((x-6,880),6,6,facecolor='#2962ff',lw=0))

fig.savefig('out.png', dpi=100, facecolor=fig.get_facecolor())
